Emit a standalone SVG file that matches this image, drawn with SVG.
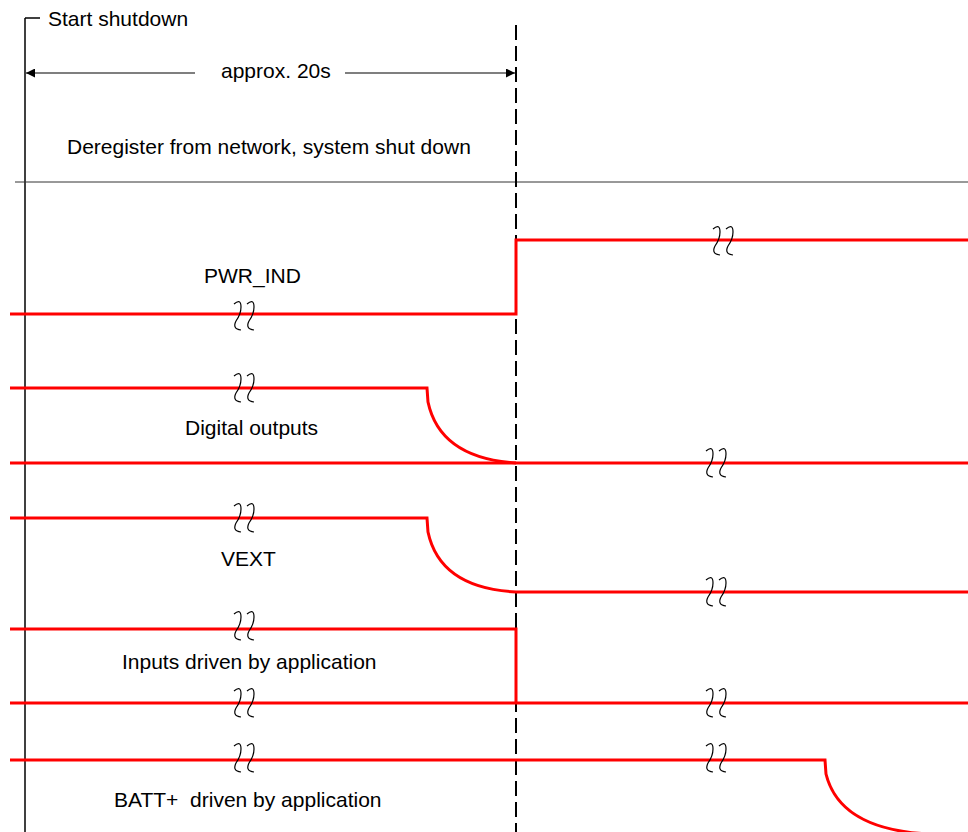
<svg xmlns="http://www.w3.org/2000/svg" xmlns:xlink="http://www.w3.org/1999/xlink" width="968" height="832" viewBox="0 0 968 832">
<style>
text{font-family:"Liberation Sans",Arial,sans-serif;font-size:21px;fill:#000;white-space:pre}
.sig{fill:none;stroke:#ff0000;stroke-width:3}
.sq{fill:none;stroke:#000;stroke-width:1.2}
.ax{fill:none;stroke:#000;stroke-width:1.5}
</style>
<defs>
<path id="sq" class="sq" d="M-10,-12 Q-3,-18 -3,-9 Q-3,-2 -8,5 Q-12,13 -3,14 M3,-12 Q10,-18 10,-9 Q10,-2 5,5 Q1,13 10,14"/>
<marker id="ah" viewBox="0 0 10 10" refX="10" refY="5" markerWidth="9" markerHeight="9" markerUnits="userSpaceOnUse" orient="auto">
<path d="M0,0 L10,5 L0,10 Z" fill="#000"/>
</marker>
</defs>
<g id="frame">
<line class="ax" x1="25" y1="18" x2="25" y2="832"/>
<line class="ax" x1="25" y1="18" x2="40" y2="18"/>
<text x="48" y="26">Start shutdown</text>
<line x1="15" y1="182" x2="968" y2="182" stroke="#333" stroke-width="1"/>
<line x1="516" y1="25" x2="516" y2="832" stroke="#000" stroke-width="2" stroke-dasharray="15 6"/>
</g>
<g id="connectors">
<line x1="195" y1="73" x2="26" y2="73" stroke="#000" stroke-width="1.2" marker-end="url(#ah)"/>
<line x1="345" y1="73" x2="515" y2="73" stroke="#000" stroke-width="1.2" marker-end="url(#ah)"/>
</g>
<g id="labels">
<text x="221" y="78">approx. 20s</text>
<text x="67" y="154">Deregister from network, system shut down</text>
</g>
<g id="pwr_ind">
<path class="sig" d="M10,314 L516,314 L516,240 L968,240"/>
<use xlink:href="#sq" x="244" y="316"/>
<use xlink:href="#sq" x="723" y="241"/>
<text x="204" y="283">PWR_IND</text>
</g>
<g id="digital_outputs">
<path class="sig" d="M10,388 L427,388 L428,402 Q440,458 516,463"/>
<path class="sig" d="M10,463 L968,463"/>
<use xlink:href="#sq" x="244" y="388"/>
<use xlink:href="#sq" x="716" y="463"/>
<text x="185" y="435">Digital outputs</text>
</g>
<g id="vext">
<path class="sig" d="M10,518 L427,518 L428,532 Q440,588 516,592 L968,592"/>
<use xlink:href="#sq" x="244" y="518"/>
<use xlink:href="#sq" x="716" y="592"/>
<text x="221" y="566">VEXT</text>
</g>
<g id="inputs">
<path class="sig" d="M10,629 L516,629 L516,703"/>
<path class="sig" d="M10,703 L968,703"/>
<use xlink:href="#sq" x="244" y="626"/>
<use xlink:href="#sq" x="244" y="703"/>
<use xlink:href="#sq" x="716" y="703"/>
<text x="122" y="669">Inputs driven by application</text>
</g>
<g id="batt">
<path class="sig" d="M10,760 L825,760 L826,774 Q840,830 930,834"/>
<use xlink:href="#sq" x="244" y="758"/>
<use xlink:href="#sq" x="716" y="758"/>
<text x="114" y="807" xml:space="preserve">BATT+  driven by application</text>
</g>
</svg>
